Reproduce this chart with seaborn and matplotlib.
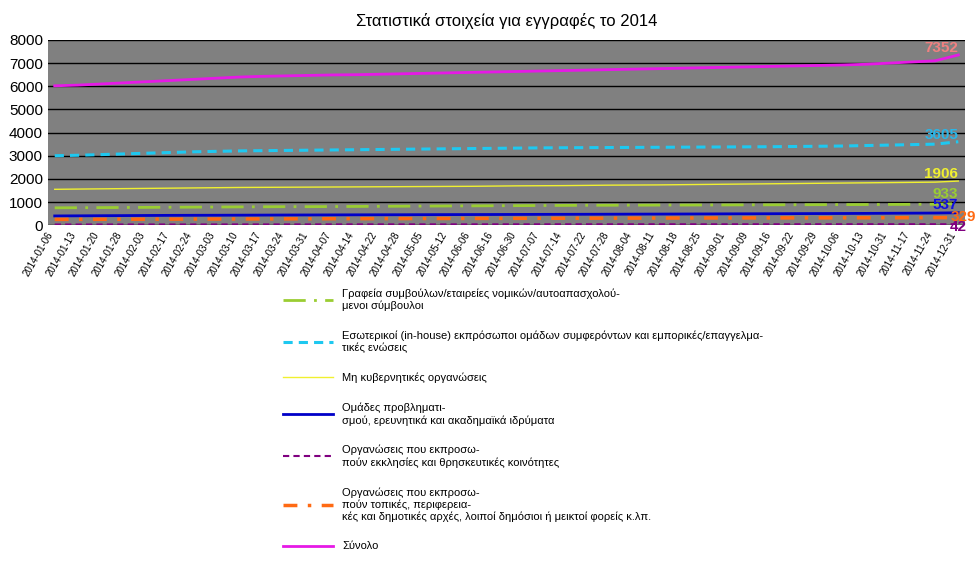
import matplotlib
matplotlib.use("Agg")
import matplotlib.pyplot as plt
import seaborn as sns
import pandas as pd

plt.rcParams["font.family"] = "Liberation Sans"

dates = ["2014-01-06", "2014-01-13", "2014-01-20", "2014-01-28", "2014-02-03", "2014-02-17",
         "2014-02-24", "2014-03-03", "2014-03-10", "2014-03-17", "2014-03-24", "2014-03-31",
         "2014-04-07", "2014-04-14", "2014-04-22", "2014-04-28", "2014-05-05", "2014-05-12",
         "2014-06-06", "2014-06-16", "2014-06-30", "2014-07-07", "2014-07-14", "2014-07-22",
         "2014-07-28", "2014-08-04", "2014-08-11", "2014-08-18", "2014-08-25", "2014-09-01",
         "2014-09-09", "2014-09-16", "2014-09-22", "2014-09-29", "2014-10-06", "2014-10-13",
         "2014-10-31", "2014-11-17", "2014-11-24", "2014-12-31"]

law_firms = [750, 755, 760, 765, 770, 775, 780, 785, 790, 795, 800, 800, 805, 810, 815, 820, 825, 830,
             835, 840, 845, 850, 855, 860, 862, 865, 868, 870, 872, 875, 878, 880, 883, 886, 889, 892,
             896, 900, 905, 933]
in_house = [3000, 3020, 3050, 3080, 3110, 3140, 3170, 3190, 3210, 3220, 3230, 3240, 3250, 3260, 3270,
            3280, 3290, 3300, 3310, 3320, 3330, 3340, 3345, 3350, 3355, 3360, 3365, 3370, 3375, 3380,
            3385, 3390, 3400, 3410, 3420, 3440, 3460, 3480, 3500, 3605]
ngos = [1550, 1560, 1570, 1580, 1590, 1600, 1610, 1620, 1630, 1635, 1640, 1645, 1650, 1655, 1660,
        1665, 1670, 1675, 1680, 1690, 1700, 1705, 1710, 1720, 1730, 1735, 1740, 1750, 1760, 1770,
        1780, 1790, 1800, 1810, 1820, 1830, 1840, 1850, 1860, 1906]
think_tanks = [400, 405, 410, 415, 420, 425, 428, 430, 433, 436, 440, 442, 445, 448, 450, 452, 455,
               458, 460, 462, 465, 468, 470, 472, 475, 478, 480, 483, 486, 490, 493, 496, 500, 503,
               506, 510, 515, 520, 525, 537]
churches = [30, 30, 31, 31, 32, 32, 33, 33, 34, 34, 35, 35, 35, 36, 36, 36, 37, 37, 37, 38, 38, 38,
            39, 39, 39, 39, 40, 40, 40, 40, 41, 41, 41, 41, 41, 42, 42, 42, 42, 42]
local_auth = [250, 252, 255, 258, 260, 262, 265, 268, 270, 272, 275, 277, 280, 282, 284, 286, 288,
              290, 292, 294, 296, 298, 300, 302, 304, 306, 308, 310, 312, 314, 315, 316, 317, 318,
              319, 320, 322, 324, 326, 329]
total = [6020, 6050, 6100, 6150, 6200, 6250, 6300, 6350, 6400, 6430, 6450, 6470, 6490, 6500, 6520,
         6540, 6560, 6580, 6600, 6620, 6640, 6660, 6680, 6700, 6720, 6740, 6760, 6780, 6800, 6820,
         6840, 6860, 6880, 6900, 6920, 6950, 7000, 7050, 7100, 7352]

labels = [
    "Γραφεία συμβούλων/εταιρείες νομικών/αυτοαπασχολού-\nμενοι σύμβουλοι",
    "Εσωτερικοί (in-house) εκπρόσωποι ομάδων συμφερόντων και εμπορικές/επαγγελμα-\nτικές ενώσεις",
    "Μη κυβερνητικές οργανώσεις",
    "Ομάδες προβληματι-\nσμού, ερευνητικά και ακαδημαϊκά ιδρύματα",
    "Οργανώσεις που εκπροσω-\nπούν εκκλησίες και θρησκευτικές κοινότητες",
    "Οργανώσεις που εκπροσω-\nπούν τοπικές, περιφερεια-\nκές και δημοτικές αρχές, λοιποί δημόσιοι ή μεικτοί φορείς κ.λπ.",
    "Σύνολο",
]
series = [law_firms, in_house, ngos, think_tanks, churches, local_auth, total]
colors = ["#9acd32", "#1ec8f0", "#f0f030", "#0000c8", "#800080", "#ff6a13", "#e619e6"]
styles = [(0, (8, 3, 1, 3)), (0, (3, 2)), "-", "-", (0, (3, 2)), (0, (4, 3, 1, 3)), "-"]
widths = [2, 2.2, 1, 2, 1.5, 2.5, 2]
label_colors = ["#9acd32", "#29b6e8", "#f0f030", "#1010e0", "#800080", "#ff6a13", "#f08080"]
# vertical nudges (data units) so the end labels do not collide
label_offsets = [120, 0, 0, 30, -420, -280, 0]
label_ha = ["right", "right", "right", "right", "left", "left", "right"]
label_dx = [0, 0, 0, 0, -0.35, -0.35, 0]

fig = plt.figure(figsize=(9.75, 5.63), dpi=100)
ax = fig.add_axes([0.049, 0.600, 0.941, 0.329])
ax.set_facecolor("#808080")
x = list(range(len(dates)))
for vals, lab, c, ls, lw in zip(series, labels, colors, styles, widths):
    df = pd.DataFrame({"x": x, "y": vals})
    sns.lineplot(data=df, x="x", y="y", ax=ax, color=c, linestyle=ls, linewidth=lw, label=lab)
for vals, c, off, ha, dx in zip(series, label_colors, label_offsets, label_ha, label_dx):
    ax.text(len(dates) - 1 + dx, vals[-1] + off, str(vals[-1]), color=c, fontsize=11,
            fontweight="bold", ha=ha, va="bottom", clip_on=False)

ax.set_ylim(0, 8000)
ax.set_xlim(-0.3, len(dates) - 0.7)
ax.set_yticks(range(0, 8001, 1000))
ax.tick_params(axis="y", labelsize=11, length=0)
ax.grid(axis="y", color="black", linewidth=1)
ax.set_axisbelow(True)
ax.set_xticks(x)
ax.set_xticklabels(dates, rotation=60, ha="right", fontsize=7)
ax.tick_params(axis="x", length=0)
ax.set_xlabel("")
ax.set_ylabel("")
for s in ax.spines.values():
    s.set_visible(False)
ax.set_title("Στατιστικά στοιχεία για εγγραφές το 2014", fontsize=12, pad=10)

handles, labs = ax.get_legend_handles_labels()
ax.get_legend().remove()
fig.legend(handles, labs, loc="upper left", bbox_to_anchor=(0.28, 0.505), frameon=False,
           fontsize=8, labelspacing=1.75, handlelength=4.5)

fig.savefig("out.png", dpi=100)
